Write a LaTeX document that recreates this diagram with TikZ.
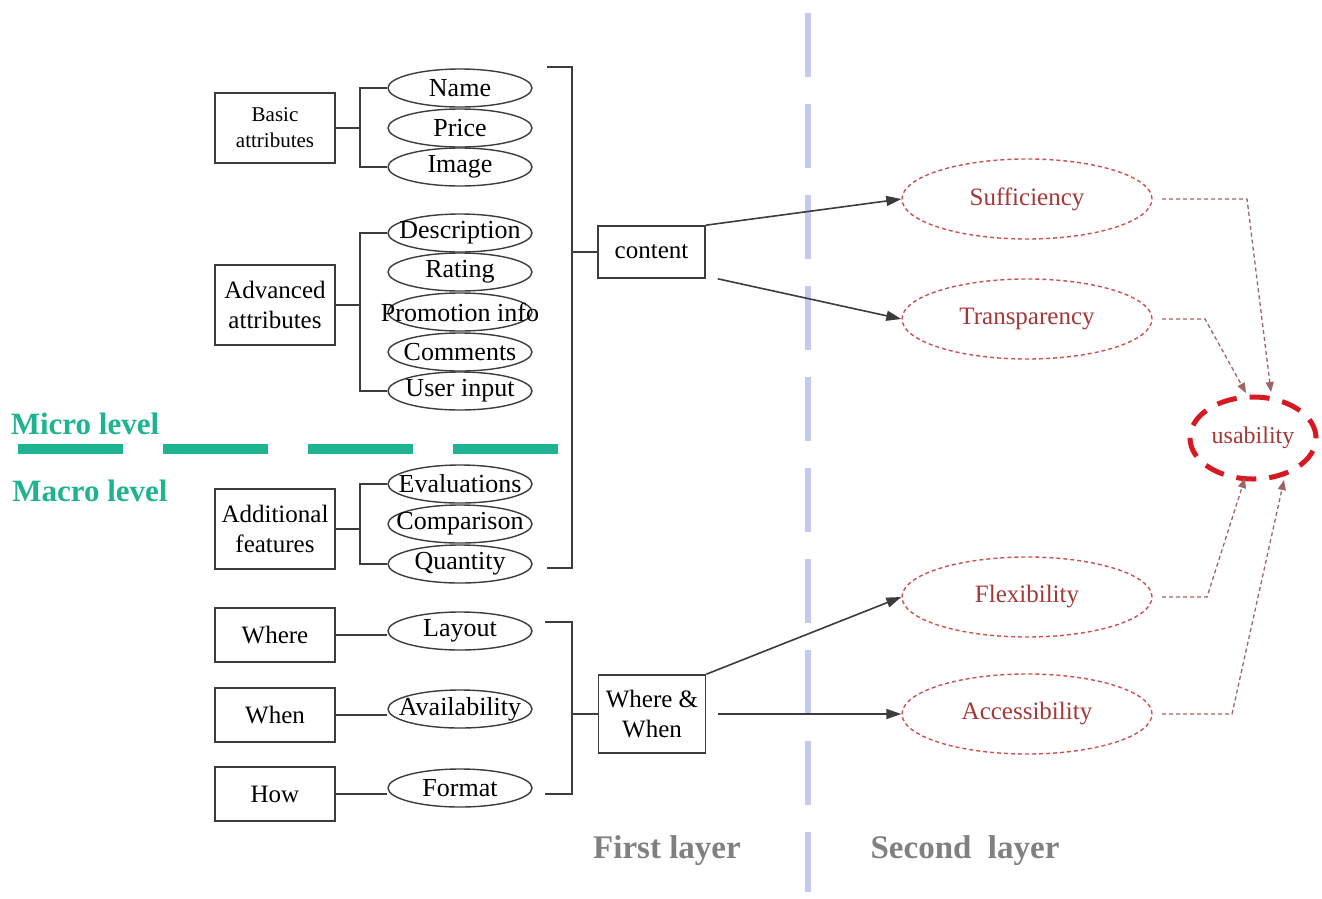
\documentclass[tikz,border=0pt]{standalone}
\usepackage{fontspec}
\setmainfont{Liberation Serif}
\usetikzlibrary{shapes.geometric,arrows.meta,calc}
\definecolor{linegray}{RGB}{60,60,60}
\definecolor{tealg}{RGB}{30,180,145}
\definecolor{lav}{RGB}{198,200,240}
\definecolor{redd}{RGB}{205,80,80}
\definecolor{redtext}{RGB}{165,55,55}
\definecolor{usred}{RGB}{215,25,35}
\definecolor{layergray}{RGB}{128,128,128}
\definecolor{conngray}{RGB}{160,100,100}
\begin{document}
\begin{tikzpicture}[x=1pt,y=-1pt,
  box/.style={draw=linegray,line width=1.6pt,rectangle,inner sep=0pt,align=center,
    minimum width=120pt,font=\fontsize{25}{30}\selectfont},
  attr/.style={draw=linegray,line width=1.4pt,ellipse,minimum width=144pt,
    minimum height=38pt,inner sep=0pt,font=\fontsize{26}{28}\selectfont},
  qual/.style={draw=redd,line width=1.4pt,dash pattern=on 4pt off 3pt,ellipse,
    minimum width=250pt,minimum height=80pt,inner sep=0pt,text=redtext,
    font=\fontsize{25}{28}\selectfont},
  wire/.style={draw=linegray,line width=1.6pt},
  arr/.style={draw=linegray,line width=1.6pt,-{Triangle[length=15pt,width=10pt]}},
  conn/.style={draw=conngray,line width=1.3pt,dash pattern=on 4pt off 3pt,
    -{Triangle[length=10pt,width=8pt]}},
  levellbl/.style={text=tealg,font=\fontsize{31}{34}\selectfont\bfseries,inner sep=0pt},
  layerlbl/.style={text=layergray,font=\fontsize{33}{36}\selectfont\bfseries,inner sep=0pt}
]
\useasboundingbox (0,0) rectangle (1322,898);
\fill[white] (0,0) rectangle (1322,898);

% separators
\coordinate (vtop) at (808,13);
\coordinate (vbot) at (808,892);
\draw[lav,line width=6pt,dash pattern=on 64pt off 27pt] (vtop) -- (vbot);
\coordinate (gl) at (18,449);
\coordinate (gr) at (558,449);
\draw[tealg,line width=10pt,dash pattern=on 105pt off 40pt] (gl) -- (gr);

\node[levellbl] (micro) at (85,424) {Micro level};
\node[levellbl] (macro) at (90,491) {Macro level};

% left boxes
\node[box,minimum height=70pt,font=\fontsize{21}{26}\selectfont] (basic) at (275,128) {Basic\\attributes};
\node[box,minimum height=80pt] (adv) at (275,305) {Advanced\\attributes};
\node[box,minimum height=80pt] (addf) at (275,529) {Additional\\features};
\node[box,minimum height=54pt] (where) at (275,635) {Where};
\node[box,minimum height=54pt] (when) at (275,715) {When};
\node[box,minimum height=54pt] (how) at (275,794) {How};

% ellipses
\node[attr] (name) at (460,88) {\makebox[0pt]{Name}};
\node[attr] (price) at (460,128) {\makebox[0pt]{Price}};
\node[attr] (image) at (460,167) {\makebox[0pt]{Image}};
\node[attr] (desc) at (460,233) {\makebox[0pt]{Description}};
\node[attr] (rating) at (460,272) {\makebox[0pt]{Rating}};
\node[attr] (promo) at (460,312) {\makebox[0pt]{Promotion info}};
\node[attr] (comm) at (460,352) {\makebox[0pt]{Comments}};
\node[attr] (user) at (460,391) {\makebox[0pt]{User input}};
\node[attr] (eval) at (460,484) {\makebox[0pt]{Evaluations}};
\node[attr] (comp) at (460,524) {\makebox[0pt]{Comparison}};
\node[attr] (quant) at (460,564) {\makebox[0pt]{Quantity}};
\node[attr] (layout) at (460,631) {\makebox[0pt]{Layout}};
\node[attr] (avail) at (460,709) {\makebox[0pt]{Availability}};
\node[attr] (format) at (460,788) {\makebox[0pt]{Format}};

% spines
\coordinate (bsp) at (360,0);
\draw[wire] (name.west) -- (name.west -| bsp) -- (image.west -| bsp) -- (image.west);
\draw[wire] (basic.east) -- (basic.east -| bsp);
\draw[wire] (desc.west) -- (desc.west -| bsp) -- (user.west -| bsp) -- (user.west);
\draw[wire] (adv.east) -- (adv.east -| bsp);
\draw[wire] (eval.west) -- (eval.west -| bsp) -- (quant.west -| bsp) -- (quant.west);
\draw[wire] (addf.east) -- (addf.east -| bsp);
\draw[wire] (where.east) -- (layout.west |- where.east);
\draw[wire] (when.east) -- (avail.west |- when.east);
\draw[wire] (how.east) -- (format.west |- how.east);

% first layer boxes
\node[box,minimum width=107pt,minimum height=52pt] (content) at (651.5,252) {content};
\node[box,minimum width=107pt,minimum height=78pt] (ww) at (652,714) {Where \&\\When};

\coordinate (csp) at (572,0);
\coordinate (ctop) at (547,67);
\coordinate (cbot) at (547,568);
\draw[wire] (ctop) -- (ctop -| csp) -- (cbot -| csp) -- (cbot);
\draw[wire] (csp |- content.west) -- (content.west);
\coordinate (wtop) at (545,622);
\coordinate (wbot) at (545,794);
\draw[wire] (wtop) -- (wtop -| csp) -- (wbot -| csp) -- (wbot);
\draw[wire] (csp |- ww.west) -- (ww.west);

% second layer
\node[qual] (suff) at (1027,199) {Sufficiency};
\node[qual] (transp) at (1027,319) {Transparency};
\node[qual] (flex) at (1027,597) {Flexibility};
\node[qual] (acc) at (1027,714) {Accessibility};
\node[draw=usred,line width=5pt,dash pattern=on 20pt off 13pt,ellipse,
  minimum width=126pt,minimum height=82pt,inner sep=0pt,text=redtext,
  font=\fontsize{24}{26}\selectfont] (usab) at (1253,438) {usability};

\coordinate (ctr) at ($(content.south east)+(12,0)$);
\coordinate (wwr) at ($(ww.east)+(12,0)$);
\draw[arr] (content.north east) -- (suff.west);
\draw[arr] (ctr) -- (transp.west);
\draw[arr] (ww.north east) -- (flex.west);
\draw[arr] (wwr) -- (acc.west);

\coordinate (s0) at (1162,199); \coordinate (s1) at (1247,199); \coordinate (sa) at (1271,392);
\coordinate (t0) at (1162,319); \coordinate (t1) at (1205,319); \coordinate (ta) at (1246,393);
\coordinate (f0) at (1162,597); \coordinate (f1) at (1207,597); \coordinate (fa) at (1245,478);
\coordinate (a0) at (1162,714); \coordinate (a1) at (1232,714); \coordinate (aa) at (1284,480);
\draw[conn] (s0) -- (s1) -- (sa);
\draw[conn] (t0) -- (t1) -- (ta);
\draw[conn] (f0) -- (f1) -- (fa);
\draw[conn] (a0) -- (a1) -- (aa);

\node[layerlbl] (l1) at (667,851) {First layer};
\node[layerlbl] (l2) at (965,851) {Second\ \ layer};
\end{tikzpicture}
\end{document}
